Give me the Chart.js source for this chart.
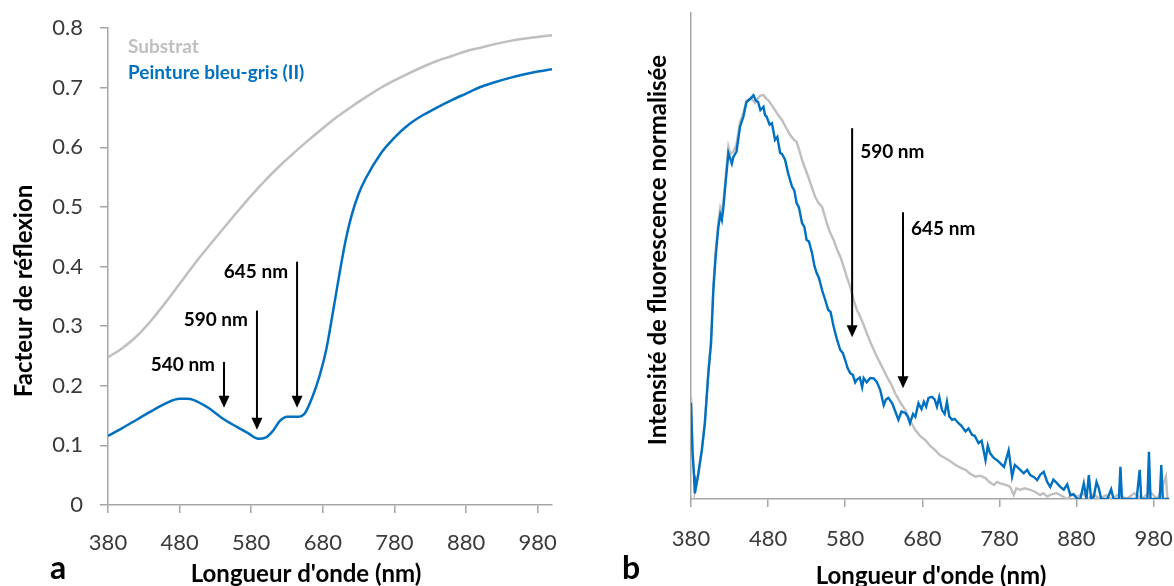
<!DOCTYPE html>
<html><head><meta charset="utf-8">
<script src="https://cdn.jsdelivr.net/npm/chart.js@4.4.1/dist/chart.umd.min.js"></script>
<style>
html,body{margin:0;padding:0;background:#fff;}
#wrap{position:relative;width:1174px;height:586px;overflow:hidden;background:#fff;}
canvas{position:absolute;top:0;}
#ca{left:0;} #cb{left:580px;}
</style></head><body>
<div id="wrap"><canvas id="ca" width="580" height="586"></canvas><canvas id="cb" width="594" height="586"></canvas></div>
<script>
// ---------- Panel a : reflectance ----------
const substratWl = [380,400,420,440,460,480,500,520,540,560,580,600,620,640,660,680,700,720,740,760,780,800,820,840,860,880,900,920,940,960,980,1000];
const substratR  = [0.248,0.263,0.283,0.309,0.339,0.371,0.403,0.433,0.462,0.491,0.519,0.545,0.569,0.591,0.612,0.632,0.651,0.668,0.684,0.699,0.712,0.724,0.735,0.745,0.753,0.761,0.767,0.773,0.778,0.782,0.785,0.788];
const peintureWl = [380,400,420,440,460,480,490,500,520,540,560,575,590,600,610,620,630,645,655,665,675,685,695,705,712,720,730,740,760,780,800,820,840,860,880,900,920,940,960,980,1000];
const peintureR  = [0.116,0.129,0.143,0.157,0.170,0.178,0.178,0.176,0.163,0.145,0.131,0.121,0.111,0.113,0.124,0.141,0.148,0.148,0.154,0.180,0.215,0.262,0.330,0.400,0.445,0.485,0.522,0.548,0.588,0.616,0.638,0.654,0.667,0.679,0.690,0.701,0.709,0.716,0.722,0.727,0.731];
const xTicks = [380,480,580,680,780,880,980];
const yTicksA = [0,0.1,0.2,0.3,0.4,0.5,0.6,0.7,0.8];
const yTickLabelsA = ['0','0.1','0.2','0.3','0.4','0.5','0.6','0.7','0.8'];
const legendLabels = ['Substrat','Peinture bleu-gris (II)'];
const arrowWlA = [542,588,644];
const arrowTopA = [0.240,0.326,0.408];
const arrowTipA = [0.163,0.126,0.163];
const arrowLabelYA = [0.235,0.310,0.391];
const arrowLabelsA = ['540 nm','590 nm','645 nm'];

// ---------- Panel b : fluorescence ----------
const fluoBlueWl = [380,382,384,385,387,389,394,398,402.5,406,409,412,415.5,418,420,422,424,428.5,431,433,435,439,443.6,448,452,456,461,464,467,470,474,476,478,482,485,489,492,495.6,498,502,506,511,514,517,520,524,527,530,533,537,540,543,546,550,554,558,561,565,569,573.5,577,580,583,586.5,590,593,595,599,602,604,608,612.5,617,621,625.5,630,633,636,641,645,649,653,658,661,664,668,671,675,679,682,685,688,692.6,696,699,702,705.6,709,712,715,718.6,722,727,731,736,740,744.5,748,753,757,762,765,768,773,777,781,786,792,796.5,800,803,807,811.6,816,820,825,829,833,837.5,842,846,850,855,859,863.5,868,872,876,881,885,889.5,893,896,899,902.5,906,909,912,920,925,928,935,937,939,950,958,962,964,972,974,976,988,990,992,1000];
const fluoBlueI  = [0.198,0.095,0.046,0.012,0.030,0.046,0.100,0.156,0.259,0.320,0.430,0.500,0.560,0.585,0.574,0.600,0.636,0.712,0.700,0.690,0.704,0.715,0.766,0.787,0.817,0.822,0.831,0.820,0.817,0.800,0.807,0.790,0.787,0.770,0.773,0.739,0.745,0.712,0.710,0.698,0.670,0.643,0.635,0.609,0.600,0.568,0.560,0.533,0.530,0.506,0.480,0.465,0.455,0.430,0.410,0.389,0.385,0.355,0.330,0.307,0.300,0.286,0.270,0.259,0.255,0.240,0.245,0.250,0.230,0.249,0.240,0.249,0.248,0.241,0.224,0.193,0.205,0.208,0.197,0.180,0.163,0.180,0.177,0.170,0.156,0.175,0.169,0.197,0.185,0.200,0.190,0.208,0.210,0.205,0.190,0.210,0.183,0.175,0.200,0.170,0.163,0.165,0.156,0.150,0.139,0.145,0.132,0.130,0.115,0.120,0.080,0.110,0.094,0.084,0.080,0.074,0.066,0.100,0.046,0.070,0.066,0.060,0.053,0.060,0.049,0.045,0.039,0.050,0.056,0.035,0.025,0.040,0.032,0.025,0.019,0.030,0.008,0.010,0.000,0.000,0.032,0.000,0.049,0.000,0.005,0.035,0.022,0.000,0.000,0.020,0.000,0.000,0.066,0.000,0.000,0.000,0.060,0.000,0.000,0.097,0.000,0.000,0.070,0.000,0.000];
const fluoGrayWl = [380,382,384,385,387,389,394,398,402.5,406,409,412,415.5,418,420,422,424,428.5,431,435,439,443.6,448,452,458,463,467,470,474,477,480,485,489,493,498,503,508.6,513,517,520,524,528,532,536,541,545,550,553,556,560,565,569,573.5,578,582,586.5,591,595,599.5,604,608,612,617,621,625.5,630,634,640,645,651,658,664,671,677,684,690,697,703,710,716,723,730,736,742,749,755,762,767,773,777,781,786,790,794,798.6,802,807,813,820,826,833,837,842,848,855,862,868,875,882,888,895,902,910,918,925,935,945,955,965,975,985,990,996,998,1000];
const fluoGrayI  = [0.210,0.100,0.050,0.015,0.030,0.050,0.100,0.160,0.260,0.330,0.440,0.510,0.570,0.600,0.590,0.610,0.645,0.725,0.710,0.715,0.730,0.775,0.795,0.820,0.825,0.815,0.825,0.830,0.831,0.825,0.821,0.810,0.800,0.790,0.780,0.765,0.749,0.740,0.735,0.720,0.698,0.680,0.663,0.645,0.622,0.610,0.601,0.585,0.568,0.550,0.533,0.515,0.499,0.478,0.457,0.437,0.409,0.390,0.375,0.358,0.341,0.325,0.307,0.293,0.279,0.265,0.252,0.235,0.217,0.200,0.183,0.162,0.142,0.130,0.121,0.110,0.100,0.090,0.084,0.078,0.070,0.064,0.060,0.052,0.046,0.048,0.043,0.035,0.029,0.035,0.032,0.030,0.028,0.025,0.008,0.022,0.019,0.022,0.019,0.015,0.008,0.012,0.005,0.010,0.012,0.005,0.000,0.010,0.005,0.012,0.000,0.010,0.000,0.008,0.000,0.010,0.000,0.012,0.000,0.015,0.000,0.020,0.046,0.000,0.000];
const arrowWlB = [589,655];
const arrowTopB = [0.763,0.590];
const arrowTipB = [0.333,0.228];
const arrowLabelYB = [0.714,0.556];
const arrowLabelsB = ['590 nm','645 nm'];

const axisTitles = {aY:'Facteur de réflexion', aX:"Longueur d'onde (nm)", bY:'Intensité de fluorescence normalisée', bX:"Longueur d'onde (nm)"};
const panelLetters = ['a','b'];

// ---------- styling ----------
const FONT = 'Lato, "Open Sans", sans-serif';
Chart.defaults.font.family = FONT;
const BLUE = '#0070C0', GRAY = '#BFBFBF', AXIS = '#A6A6A6', TICK = '#3a3a3a';
const TICK_SIZE = 22, TITLE_SIZE = 24, NOTE_SIZE = 19, LETTER_SIZE = 32;

function pts(xs, ys){ return xs.map((x,i)=>({x, y: ys[i]})); }

function drawArrow(ctx, x, yTop, yTip){
  ctx.save();
  ctx.strokeStyle = '#000'; ctx.fillStyle = '#000'; ctx.lineWidth = 2;
  ctx.beginPath(); ctx.moveTo(x, yTop); ctx.lineTo(x, yTip - 9); ctx.stroke();
  ctx.beginPath(); ctx.moveTo(x - 5.5, yTip - 12); ctx.lineTo(x + 5.5, yTip - 12); ctx.lineTo(x, yTip); ctx.closePath(); ctx.fill();
  ctx.restore();
}

const annotA = {
  id: 'annotA',
  afterDatasetsDraw(chart){
    const {ctx, scales:{x, y}} = chart;
    ctx.save();
    ctx.font = 'bold ' + NOTE_SIZE + 'px ' + FONT; ctx.textBaseline = 'middle'; ctx.textAlign = 'left';
    ctx.fillStyle = GRAY; ctx.fillText(legendLabels[0], 128, 47);
    ctx.fillStyle = BLUE; ctx.fillText(legendLabels[1], 128, 73);
    arrowWlA.forEach((wl, i) => {
      const px = x.getPixelForValue(wl);
      drawArrow(ctx, px, y.getPixelForValue(arrowTopA[i]), y.getPixelForValue(arrowTipA[i]));
      ctx.fillStyle = '#000'; ctx.font = 'bold ' + NOTE_SIZE + 'px ' + FONT; ctx.textAlign = 'right'; ctx.textBaseline = 'middle';
      ctx.fillText(arrowLabelsA[i], px - 9, y.getPixelForValue(arrowLabelYA[i]));
    });
    ctx.fillStyle = '#000'; ctx.font = 'bold ' + TITLE_SIZE + 'px ' + FONT; ctx.textAlign = 'center'; ctx.textBaseline = 'middle';
    ctx.fillText(axisTitles.aX, 306, 574);
    ctx.save(); ctx.translate(24, 291); ctx.rotate(-Math.PI/2); ctx.fillText(axisTitles.aY, 0, 0); ctx.restore();
    ctx.font = 'bold ' + LETTER_SIZE + 'px ' + FONT; ctx.textAlign = 'left'; ctx.textBaseline = 'alphabetic';
    ctx.fillText(panelLetters[0], 50, 579);
    ctx.restore();
  }
};

const annotB = {
  id: 'annotB',
  afterDatasetsDraw(chart){
    const {ctx, scales:{x, y}} = chart;
    ctx.save();
    arrowWlB.forEach((wl, i) => {
      const px = x.getPixelForValue(wl);
      drawArrow(ctx, px, y.getPixelForValue(arrowTopB[i]), y.getPixelForValue(arrowTipB[i]));
      ctx.fillStyle = '#000'; ctx.font = 'bold ' + NOTE_SIZE + 'px ' + FONT; ctx.textAlign = 'left'; ctx.textBaseline = 'middle';
      ctx.fillText(arrowLabelsB[i], px + 8, y.getPixelForValue(arrowLabelYB[i]));
    });
    ctx.fillStyle = '#000'; ctx.font = 'bold ' + TITLE_SIZE + 'px ' + FONT; ctx.textAlign = 'center'; ctx.textBaseline = 'middle';
    ctx.fillText(axisTitles.bX, 931 - 580, 576);
    ctx.save(); ctx.translate(658 - 580, 250); ctx.rotate(-Math.PI/2); ctx.fillText(axisTitles.bY, 0, 0); ctx.restore();
    ctx.font = 'bold ' + LETTER_SIZE + 'px ' + FONT; ctx.textAlign = 'left'; ctx.textBaseline = 'alphabetic';
    ctx.fillText(panelLetters[1], 622 - 580, 579);
    ctx.restore();
  }
};

function xScale(h, pad){
  return {
    type: 'linear', min: 380, max: 1000,
    afterBuildTicks: s => { s.ticks = xTicks.map(v => ({value: v})); },
    afterFit: s => { s.height = h; s.paddingLeft = 0; s.paddingRight = 0; },
    ticks: {font: {size: TICK_SIZE}, color: TICK, padding: pad, maxRotation: 0, autoSkip: false},
    grid: {display: true, drawOnChartArea: false, drawTicks: true, tickLength: 8, color: AXIS, lineWidth: 1.5},
    border: {display: true, color: AXIS, width: 1.5}
  };
}

new Chart(document.getElementById('ca'), {
  type: 'line',
  data: {datasets: [
    {label: legendLabels[1], data: pts(peintureWl, peintureR), borderColor: BLUE, borderWidth: 2.5, pointRadius: 0, cubicInterpolationMode: 'monotone', fill: false, order: 0},
    {label: legendLabels[0], data: pts(substratWl, substratR), borderColor: GRAY, borderWidth: 2.5, pointRadius: 0, cubicInterpolationMode: 'monotone', fill: false, order: 1}
  ]},
  options: {
    responsive: false, animation: false, devicePixelRatio: 1,
    layout: {padding: {top: 28, right: 28, left: 0, bottom: 0}},
    plugins: {legend: {display: false}, tooltip: {enabled: false}},
    scales: {
      x: xScale(81, 17),
      y: {
        min: 0, max: 0.8,
        afterBuildTicks: s => { s.ticks = yTicksA.map(v => ({value: v})); },
        afterFit: s => { s.width = 108; s.paddingTop = 0; s.paddingBottom = 0; },
        ticks: {font: {size: TICK_SIZE}, color: TICK, padding: 17, callback: (v, i) => yTickLabelsA[i]},
        grid: {display: true, drawOnChartArea: false, drawTicks: true, tickLength: 8, color: AXIS, lineWidth: 1.5},
        border: {display: true, color: AXIS, width: 1.5}
      }
    }
  },
  plugins: [annotA]
});

new Chart(document.getElementById('cb'), {
  type: 'line',
  data: {datasets: [
    {label: legendLabels[1], data: pts(fluoBlueWl, fluoBlueI), borderColor: BLUE, borderWidth: 2.4, pointRadius: 0, tension: 0, fill: false, order: 0},
    {label: legendLabels[0], data: pts(fluoGrayWl, fluoGrayI), borderColor: GRAY, borderWidth: 2.4, pointRadius: 0, tension: 0, fill: false, order: 1}
  ]},
  options: {
    responsive: false, animation: false, devicePixelRatio: 1,
    layout: {padding: {top: 13, right: 5, left: 0, bottom: 0}},
    plugins: {legend: {display: false}, tooltip: {enabled: false}},
    scales: {
      x: xScale(87, 19),
      y: {
        min: 0, max: 1,
        afterFit: s => { s.width = 111; s.paddingTop = 0; s.paddingBottom = 0; },
        ticks: {display: false},
        grid: {display: false},
        border: {display: true, color: AXIS, width: 1.5}
      }
    }
  },
  plugins: [annotB]
});
</script>
</body></html>
